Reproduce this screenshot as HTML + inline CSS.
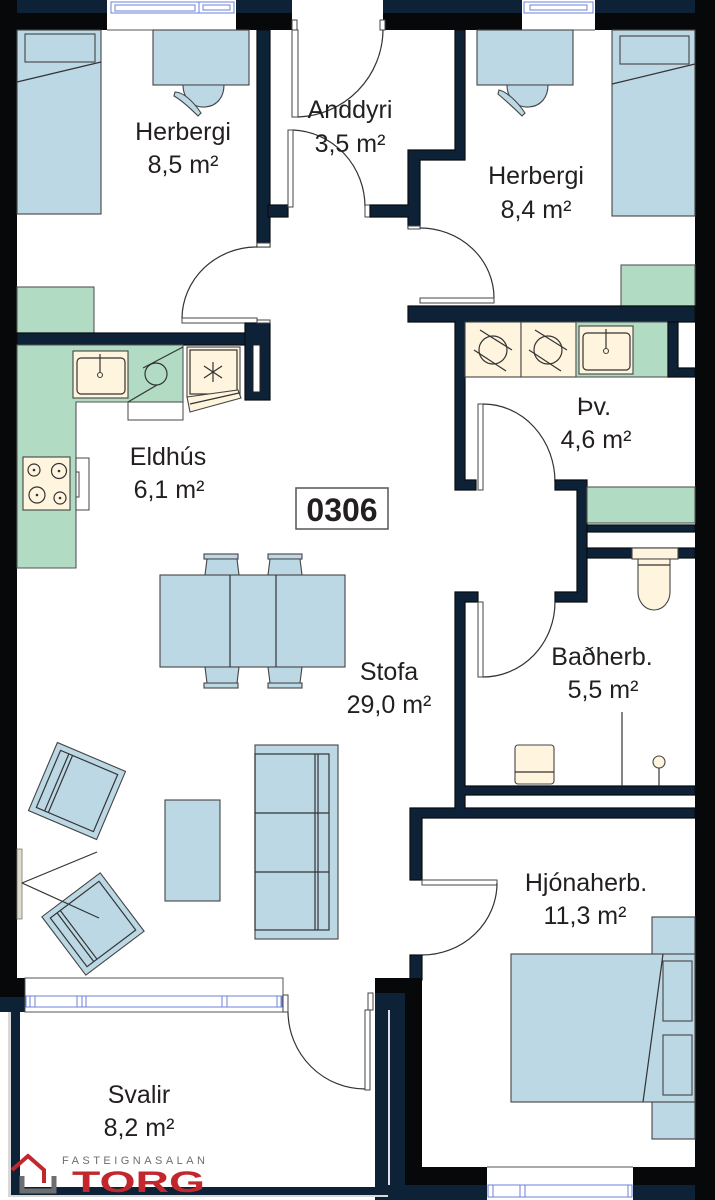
<!DOCTYPE html>
<html><head><meta charset="utf-8">
<style>
html,body{margin:0;padding:0;background:#fff;}
svg{display:block;}
.n{fill:#0d2137;}
.nw{fill:#0d2137;stroke:#0a0d10;stroke-width:1.2;}
.k{fill:#060809;}
.f{fill:#bcd8e5;stroke:#444;stroke-width:1.1;}
.g{fill:#b1dcc3;stroke:#555;stroke-width:1.1;}
.c{fill:#fff5de;stroke:#444;stroke-width:1.1;}
.l{fill:none;stroke:#333;stroke-width:1.2;}
.d{fill:#fff;stroke:#444;stroke-width:1;}
.win{fill:none;stroke:#6b80d8;stroke-width:1;}
.t{font-family:"Liberation Sans",Arial,sans-serif;font-size:25px;fill:#231f20;text-anchor:middle;}
</style></head>
<body>
<svg xmlns="http://www.w3.org/2000/svg" width="715" height="1200" viewBox="0 0 715 1200">
<rect width="715" height="1200" fill="#fff"/>

<!-- ===== Outer walls ===== -->
<rect class="k" x="0" y="0" width="17" height="997"/>
<rect class="k" x="0" y="978" width="25" height="19"/>
<rect class="n" x="0" y="997" width="25" height="15"/>
<rect class="n" x="17" y="0" width="90" height="13"/>
<rect class="n" x="236" y="0" width="56" height="13"/>
<rect class="n" x="383" y="0" width="139" height="13"/>
<rect class="n" x="595" y="0" width="100" height="13"/>
<rect class="k" x="0" y="13" width="107" height="17"/>
<rect class="k" x="236" y="13" width="56" height="17"/>
<rect class="k" x="383" y="13" width="139" height="17"/>
<rect class="k" x="595" y="13" width="120" height="17"/>
<rect class="k" x="695" y="0" width="20" height="1200"/>

<!-- top windows -->
<rect x="107" y="0" width="129" height="30" fill="#fff"/>
<rect class="win" x="111" y="2" width="123" height="11"/>
<rect class="win" x="115" y="5" width="80" height="6"/>
<line class="win" x1="199" y1="2" x2="199" y2="13"/>
<rect class="win" x="203" y="5" width="27" height="5"/>
<line x1="107" y1="30" x2="236" y2="30" stroke="#555" stroke-width="1"/>
<rect x="522" y="0" width="73" height="30" fill="#fff"/>
<rect class="win" x="524" y="2" width="69" height="11"/>
<rect class="win" x="530" y="5" width="57" height="5"/>
<line x1="522" y1="30" x2="595" y2="30" stroke="#555" stroke-width="1"/>

<!-- ===== Herbergi 1 ===== -->
<rect class="f" x="17" y="30" width="84" height="184"/>
<rect class="f" x="25" y="34" width="70" height="28"/>
<line class="l" x1="17" y1="82" x2="101" y2="62"/>
<rect class="f" x="153" y="30" width="96" height="55"/>
<path class="f" d="M183,85 C183,100 195,108 205,107 C218,106 224,96 224,85 Z"/>
<path class="f" d="M175,92 C183,92 193,101 201,113 L198,116 C190,108 181,100 174,96 Z"/>
<rect class="g" x="17" y="287" width="77" height="46"/>

<!-- wall Herb1/Anddyri -->
<rect class="nw" x="257" y="30" width="13" height="217"/>
<rect class="nw" x="268" y="205" width="20" height="12"/>
<rect class="d" x="257" y="243" width="13" height="4"/>

<!-- Anddyri doors -->
<rect class="d" x="292" y="20" width="5" height="10"/>
<rect class="d" x="380" y="20" width="5" height="10"/>
<rect class="d" x="292" y="30" width="6" height="87"/>
<path class="l" d="M383,30 A88,88 0 0 1 298,117"/>
<rect class="d" x="288" y="130" width="5" height="77"/>
<path class="l" d="M293,130 A75,77 0 0 1 365,207"/>
<rect class="d" x="365" y="205" width="5" height="12"/>

<!-- wall Anddyri / Herb2 -->
<path class="nw" d="M455,30 H465 V160 H420 V228 H408 V217 H370 V205 H408 V150 H455 Z"/>
<rect class="d" x="408" y="226" width="12" height="3"/>

<!-- Herbergi 1 door -->
<rect class="d" x="182" y="318" width="75" height="5"/>
<path class="l" d="M182,318 A75,72 0 0 1 257,247"/>

<!-- ===== Herbergi 2 ===== -->
<rect class="f" x="612" y="30" width="83" height="186"/>
<rect class="f" x="620" y="36" width="69" height="28"/>
<line class="l" x1="612" y1="84" x2="695" y2="64"/>
<rect class="f" x="477" y="30" width="96" height="55"/>
<path class="f" d="M507,85 C507,100 519,108 529,107 C542,106 548,96 548,85 Z"/>
<path class="f" d="M499,90 C507,92 517,101 525,113 L522,116 C514,108 505,100 498,94 Z"/>
<rect class="g" x="621" y="265" width="74" height="41"/>
<rect class="d" x="420" y="298" width="74" height="5"/>
<path class="l" d="M420,228 A74,70 0 0 1 494,298"/>

<!-- wall below Herb2 / Þv. left -->
<path class="nw" d="M408,306 H695 V322 H465 V480 H476 V490 H455 V322 H408 Z"/>

<!-- ===== Þv. ===== -->
<rect class="c" x="465" y="322" width="56" height="55"/>
<rect class="c" x="521" y="322" width="55" height="55"/>
<rect class="g" x="576" y="322" width="92" height="55"/>
<circle class="l" cx="493" cy="350" r="14"/>
<line class="l" x1="480" y1="330" x2="512" y2="350"/>
<line class="l" x1="474" y1="350" x2="506" y2="371"/>
<circle class="l" cx="548" cy="350" r="14"/>
<line class="l" x1="535" y1="330" x2="567" y2="350"/>
<line class="l" x1="529" y1="350" x2="561" y2="371"/>
<rect class="c" x="579" y="326" width="54" height="48"/>
<rect class="l" x="583" y="333" width="47" height="37" rx="4"/>
<line class="l" x1="606" y1="329" x2="606" y2="349"/>
<circle class="c" cx="606" cy="351" r="2.5"/>
<path class="nw" d="M668,322 H678 V368 H695 V377 H668 Z"/>
<rect class="d" x="478" y="404" width="5" height="86"/>
<path class="l" d="M483,404 A72,78 0 0 1 555,482"/>
<path class="nw" d="M555,480 H587 V602 H555 V592 H577 V490 H555 Z"/>
<rect class="g" x="587" y="487" width="108" height="36"/>
<rect class="nw" x="587" y="525" width="108" height="7"/>
<rect class="nw" x="587" y="548" width="108" height="10"/>

<!-- ===== Baðherb. ===== -->
<path class="nw" d="M455,592 H478 V602 H465 V786 H695 V795 H465 V808 H695 V818 H422 V880 H410 V808 H455 Z"/>
<rect class="d" x="478" y="602" width="5" height="75"/>
<path class="l" d="M483,677 A72,75 0 0 0 555,602"/>
<rect class="c" x="632" y="548" width="46" height="11"/>
<path class="c" d="M638,559 V592 A16,18 0 0 0 670,592 V559 Z"/>
<line class="l" x1="638" y1="565" x2="670" y2="565"/>
<rect class="c" x="515" y="745" width="39" height="39" rx="3"/>
<line class="l" x1="515" y1="772" x2="554" y2="772"/>
<line class="l" x1="622" y1="712" x2="622" y2="786"/>
<circle class="c" cx="659" cy="762" r="6"/>
<line class="l" x1="659" y1="768" x2="659" y2="786"/>

<!-- ===== Hjónaherb. ===== -->
<rect class="d" x="422" y="880" width="75" height="5"/>
<path class="l" d="M497,883 A75,72 0 0 1 422,955"/>
<rect class="nw" x="410" y="955" width="12" height="25"/>
<rect class="f" x="652" y="917" width="43" height="222"/>
<rect class="f" x="511" y="954" width="184" height="148"/>
<rect class="f" x="663" y="961" width="29" height="60"/>
<rect class="f" x="663" y="1035" width="29" height="60"/>
<line class="l" x1="663" y1="954" x2="643" y2="1102"/>

<!-- lower walls -->
<rect class="k" x="375" y="978" width="47" height="15"/>
<rect class="n" x="375" y="993" width="30" height="207"/>
<rect x="388" y="1010" width="2" height="185" fill="#dde"/>
<rect class="k" x="405" y="993" width="17" height="174"/>
<rect class="k" x="405" y="1167" width="82" height="18"/>
<rect class="n" x="375" y="1185" width="112" height="15"/>
<rect class="k" x="633" y="1167" width="62" height="18"/>
<rect class="n" x="633" y="1185" width="62" height="15"/>
<rect x="487" y="1167" width="146" height="33" fill="#fff"/>
<rect class="win" x="488" y="1185" width="144" height="12"/>
<line class="win" x1="493" y1="1185" x2="493" y2="1197"/>
<line class="win" x1="520" y1="1185" x2="520" y2="1197"/>
<line class="win" x1="525" y1="1185" x2="525" y2="1197"/>
<line class="win" x1="628" y1="1185" x2="628" y2="1197"/>
<line x1="487" y1="1167" x2="633" y2="1167" stroke="#555" stroke-width="1"/>

<!-- ===== Eldhús ===== -->
<rect class="nw" x="17" y="333" width="240" height="12"/>
<rect class="nw" x="245" y="323" width="25" height="77"/>
<rect x="253" y="345" width="7" height="47" fill="#fff" stroke="#222" stroke-width="1"/>
<rect class="d" x="257" y="320" width="13" height="3"/>
<path class="g" d="M17,345 H183 V402 H76 V568 H17 Z"/>
<rect class="c" x="73" y="351" width="55" height="47"/>
<rect class="l" x="77" y="358" width="48" height="36" rx="4"/>
<line class="l" x1="100" y1="354" x2="100" y2="373"/>
<circle class="c" cx="100" cy="375" r="2.5"/>
<circle class="l" cx="156" cy="374" r="11"/>
<line class="l" x1="183" y1="347" x2="143" y2="368"/>
<line class="l" x1="157" y1="385" x2="128" y2="402"/>
<rect class="d" x="128" y="402" width="55" height="18"/>
<rect class="c" x="187" y="347" width="53" height="50"/>
<rect class="l" x="190" y="350" width="47" height="44"/>
<line class="l" x1="213" y1="362" x2="213" y2="382"/>
<line class="l" x1="204" y1="366" x2="222" y2="378"/>
<line class="l" x1="204" y1="378" x2="222" y2="366"/>
<path class="c" d="M187,397 L238,390 L241,398 L190,412 Z"/>
<line class="l" x1="190" y1="404" x2="239" y2="393"/>
<rect class="c" x="23" y="457" width="47" height="53"/>
<circle class="l" cx="34" cy="470" r="6"/><circle cx="34" cy="470" r="1.3" fill="#333"/>
<circle class="l" cx="59" cy="471" r="7.5"/><circle cx="59" cy="471" r="1.3" fill="#333"/>
<circle class="l" cx="37" cy="495" r="8"/><circle cx="37" cy="495" r="1.3" fill="#333"/>
<circle class="l" cx="60" cy="498" r="6"/><circle cx="60" cy="498" r="1.3" fill="#333"/>
<rect class="d" x="76" y="458" width="13" height="52"/>
<rect class="d" x="76" y="472" width="3" height="25"/>

<!-- ===== Stofa ===== -->
<rect class="f" x="204" y="554" width="34" height="5"/>
<path class="f" d="M205,575 L207,559 H237 L239,575 Z"/>
<rect class="f" x="268" y="554" width="34" height="5"/>
<path class="f" d="M268,575 L270,559 H300 L302,575 Z"/>
<rect class="f" x="204" y="683" width="34" height="5"/>
<path class="f" d="M205,667 L207,683 H237 L239,667 Z"/>
<rect class="f" x="268" y="683" width="34" height="5"/>
<path class="f" d="M268,667 L270,683 H300 L302,667 Z"/>
<rect class="f" x="160" y="575" width="185" height="92"/>
<line class="l" x1="230" y1="575" x2="230" y2="667"/>
<line class="l" x1="276" y1="575" x2="276" y2="667"/>

<g transform="translate(77,791) rotate(23)">
<rect class="f" x="-37" y="-37" width="74" height="74"/>
<rect class="l" x="-31" y="-31" width="62" height="62"/>
<line class="l" x1="-22" y1="-31" x2="-22" y2="31"/>
<line class="l" x1="-18" y1="-31" x2="-18" y2="31"/>
</g>
<g transform="translate(93,924) rotate(-37)">
<rect class="f" x="-36.5" y="-36.5" width="73" height="73"/>
<rect class="l" x="-30.5" y="-30.5" width="61" height="61"/>
<line class="l" x1="-22" y1="-30.5" x2="-22" y2="30.5"/>
<line class="l" x1="-18" y1="-30.5" x2="-18" y2="30.5"/>
</g>
<rect x="17" y="849" width="5" height="70" fill="#e2dccb" stroke="#777" stroke-width="0.8"/>
<line class="l" x1="22" y1="883" x2="97" y2="852"/>
<line class="l" x1="22" y1="883" x2="99" y2="918"/>

<rect class="f" x="165" y="800" width="55" height="101"/>
<rect class="f" x="255" y="745" width="83" height="194"/>
<rect class="l" x="255" y="754" width="74" height="176"/>
<line class="l" x1="315" y1="754" x2="315" y2="930"/>
<line class="l" x1="318" y1="754" x2="318" y2="930"/>
<line class="l" x1="255" y1="813" x2="329" y2="813"/>
<line class="l" x1="255" y1="872" x2="329" y2="872"/>

<!-- living window + balcony -->
<rect x="25" y="978" width="258" height="34" fill="#fff" stroke="#555" stroke-width="1"/>
<rect class="win" x="26" y="996" width="256" height="11"/>
<line class="win" x1="30" y1="996" x2="30" y2="1007"/>
<line class="win" x1="35" y1="996" x2="35" y2="1007"/>
<line class="win" x1="77" y1="996" x2="77" y2="1007"/>
<line class="win" x1="82" y1="996" x2="82" y2="1007"/>
<line class="win" x1="86" y1="996" x2="86" y2="1007"/>
<line class="win" x1="222" y1="996" x2="222" y2="1007"/>
<line class="win" x1="227" y1="996" x2="227" y2="1007"/>
<line class="win" x1="277" y1="996" x2="277" y2="1007"/>
<line class="win" x1="281" y1="996" x2="281" y2="1007"/>
<rect class="d" x="283" y="995" width="5" height="17"/>
<rect class="d" x="368" y="993" width="5" height="17"/>
<rect class="d" x="365" y="1010" width="5" height="80"/>
<path class="l" d="M288,1012 A77,78 0 0 0 365,1089"/>
<rect x="8" y="1012" width="3" height="185" fill="#d8d8d8"/>
<rect class="n" x="11" y="1012" width="9" height="183"/>
<rect class="n" x="11" y="1187" width="377" height="8"/>
<rect x="8" y="1195" width="380" height="2" fill="#d8d8d8"/>

<!-- ===== labels ===== -->
<text class="t" x="183" y="140">Herbergi</text>
<text class="t" x="183" y="173">8,5 m²</text>
<text class="t" x="350" y="118">Anddyri</text>
<text class="t" x="350" y="152">3,5 m²</text>
<text class="t" x="536" y="184">Herbergi</text>
<text class="t" x="536" y="218">8,4 m²</text>
<text class="t" x="168" y="465">Eldhús</text>
<text class="t" x="169" y="498">6,1 m²</text>
<text class="t" x="594" y="415">Þv.</text>
<text class="t" x="596" y="448">4,6 m²</text>
<text class="t" x="602" y="665">Baðherb.</text>
<text class="t" x="603" y="698">5,5 m²</text>
<text class="t" x="389" y="680">Stofa</text>
<text class="t" x="389" y="713">29,0 m²</text>
<text class="t" x="586" y="891">Hjónaherb.</text>
<text class="t" x="585" y="924">11,3 m²</text>
<text class="t" x="139" y="1103">Svalir</text>
<text class="t" x="139" y="1136">8,2 m²</text>

<rect x="296" y="488" width="92" height="41" fill="#fff" stroke="#555" stroke-width="1.5"/>
<text x="342" y="521" font-family="Liberation Sans, Arial, sans-serif" font-size="32" font-weight="bold" fill="#231f20" text-anchor="middle">0306</text>

<!-- ===== logo ===== -->
<path d="M12,1170 L28,1156 L44,1170 V1183" fill="none" stroke="#c1272d" stroke-width="4"/>
<path d="M22,1176 V1191 H54 V1176" fill="none" stroke="#6d6e70" stroke-width="5"/>
<text x="62" y="1164" font-family="Liberation Sans, Arial, sans-serif" font-size="11" fill="#6d6e70" textLength="143" lengthAdjust="spacing">FASTEIGNASALAN</text>
<text x="72" y="1192" font-family="Liberation Sans, Arial, sans-serif" font-size="30" font-weight="bold" fill="#c1272d" textLength="133" lengthAdjust="spacingAndGlyphs">TORG</text>
</svg>
</body></html>
